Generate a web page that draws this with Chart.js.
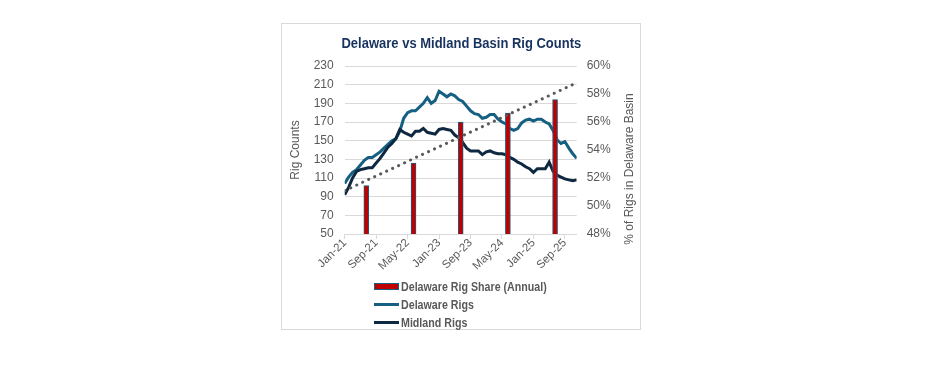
<!DOCTYPE html>
<html>
<head>
<meta charset="utf-8">
<script src="https://cdn.jsdelivr.net/npm/chart.js@4.4.1/dist/chart.umd.min.js"></script>
<style>
    body { margin: 0; background: #fff; width: 931px; height: 367px; position: relative; overflow: hidden; }
    #box { position: absolute; left: 281px; top: 23px; width: 358px; height: 305px; border: 1px solid #D9D9D9; background: #fff; }
    #box canvas { position: absolute; left: 0; top: 0; }
    #title { position: absolute; left: 0; top: 10px; width: 358px; text-align: center; white-space: nowrap;
             font-family: 'Liberation Sans', Arial, sans-serif; font-weight: bold; font-size: 15px; line-height: 18px; color: #17325E; }
    #title span { display: inline-block; transform-origin: center; }
    #legend { position: absolute; left: 92px; top: 254px; font-family: 'Liberation Sans', Arial, sans-serif; font-weight: bold; font-size: 13px; color: #595959; }
    .row { display: flex; align-items: center; height: 17.7px; white-space: nowrap; }
    .sym { width: 25px; margin-right: 2px; box-sizing: border-box; flex: none; }
    .txt { display: inline-block; transform-origin: left center; }
</style>
</head>
<body>
<div id="box">
    <canvas id="rigChart" width="358" height="305"></canvas>
    <div id="title"><span>Delaware vs Midland Basin Rig Counts</span></div>
    <div id="legend"></div>
</div>
<script>
// Meses (eixo X), Jan-21 a Dec-25
const months = [
    'Jan-21','Feb-21','Mar-21','Apr-21','May-21','Jun-21','Jul-21','Aug-21','Sep-21','Oct-21','Nov-21','Dec-21',
    'Jan-22','Feb-22','Mar-22','Apr-22','May-22','Jun-22','Jul-22','Aug-22','Sep-22','Oct-22','Nov-22','Dec-22',
    'Jan-23','Feb-23','Mar-23','Apr-23','May-23','Jun-23','Jul-23','Aug-23','Sep-23','Oct-23','Nov-23','Dec-23',
    'Jan-24','Feb-24','Mar-24','Apr-24','May-24','Jun-24','Jul-24','Aug-24','Sep-24','Oct-24','Nov-24','Dec-24',
    'Jan-25','Feb-25','Mar-25','Apr-25','May-25','Jun-25','Jul-25','Aug-25','Sep-25','Oct-25','Nov-25','Dec-25'
];

const delawareRigs = [
    104, 111, 116, 119, 124, 129, 132, 132, 135, 138,
    142, 146, 150, 152, 160, 174, 180, 182, 182, 186,
    190, 196, 190, 193, 203, 200, 197, 200, 198, 194,
    192, 187, 182, 179, 178, 174, 175, 178, 178, 173,
    170, 168, 163, 161, 163, 169, 172, 173, 171, 173,
    173, 170, 168, 161, 151, 147, 149, 142, 136, 131
];

const midlandRigs = [
    92, 100, 110, 117, 119, 120, 121, 121, 126, 131,
    137, 143, 147, 152, 162, 159, 157, 155, 160, 160,
    163, 159, 158, 157, 162, 163, 162, 161, 156, 153,
    148, 142, 139, 139, 139, 135, 138, 139, 137, 136,
    136, 135, 132, 130, 127, 125, 122, 120, 116, 120,
    120, 120, 127, 117, 113, 111, 109, 108, 107, 108
];

// Participação anual do Delaware (%), posicionada no meio de cada ano
const shareYears = ['2021', '2022', '2023', '2024', '2025'];
const sharePos = [5.5, 17.5, 29.5, 41.5, 53.5];
const delawareShare = [51.45, 53.07, 56.0, 56.64, 57.6];

// Linha de tendência (pontilhada)
const trendPos = [0, 59];
const trendShare = [51.1, 58.8];

const grey = '#595959';
const fontBase = "'Liberation Sans', Arial, sans-serif";

// Título do eixo direito (lido de baixo para cima)
const rightTitle = {
    id: 'rightTitle',
    afterDraw(chart) {
        const ctx = chart.ctx;
        const area = chart.chartArea;
        ctx.save();
        ctx.translate(chart.scales.y2.right - 10, (area.top + area.bottom) / 2 + 19);
        ctx.rotate(-Math.PI / 2);
        ctx.font = '12px ' + fontBase;
        ctx.fillStyle = grey;
        ctx.textAlign = 'center';
        ctx.textBaseline = 'middle';
        ctx.fillText('% of Rigs in Delaware Basin', 0, 0);
        ctx.restore();
    }
};

const chart = new Chart(document.getElementById('rigChart'), {
    type: 'line',
    data: {
        datasets: [{
            type: 'line',
            label: 'trend',
            data: trendPos.map((x, i) => ({ x: x, y: trendShare[i] })),
            yAxisID: 'y2',
            borderColor: grey,
            borderWidth: 3,
            borderDash: [0.1, 6.5],
            borderCapStyle: 'round',
            pointRadius: 0,
            order: 0
        }, {
            type: 'bar',
            label: 'Delaware Rig Share (Annual)',
            data: sharePos.map((x, i) => ({ x: x, y: delawareShare[i] })),
            yAxisID: 'y2',
            backgroundColor: '#C00000',
            borderColor: '#156082',
            borderWidth: 1,
            barThickness: 5,
            order: 1
        }, {
            type: 'line',
            label: 'Delaware Rigs',
            data: delawareRigs.map((v, i) => ({ x: i, y: v })),
            yAxisID: 'y',
            borderColor: '#156082',
            borderWidth: 3,
            pointRadius: 0,
            tension: 0,
            order: 3
        }, {
            type: 'line',
            label: 'Midland Rigs',
            data: midlandRigs.map((v, i) => ({ x: i, y: v })),
            yAxisID: 'y',
            borderColor: '#0E2841',
            borderWidth: 3,
            pointRadius: 0,
            tension: 0,
            order: 2
        }]
    },
    options: {
        responsive: false,
        animation: false,
        layout: { padding: { top: 42, left: 0, right: 0, bottom: 0 } },
        plugins: {
            legend: { display: false },
            tooltip: { enabled: false },
            title: { display: false }
        },
        scales: {
            x: {
                type: 'linear',
                min: 0,
                max: 59,
                offset: false,
                afterFit: s => { s.height = 95; },
                grid: { drawOnChartArea: false, drawTicks: true, tickLength: 5, color: '#D9D9D9', offset: false },
                border: { color: '#D9D9D9' },
                ticks: {
                    stepSize: 8,
                    includeBounds: false,
                    autoSkip: false,
                    maxRotation: 45,
                    minRotation: 45,
                    padding: -3,
                    color: grey,
                    font: { family: fontBase, size: 11.5 },
                    callback: v => months[v]
                }
            },
            y: {
                position: 'left',
                min: 50,
                max: 230,
                afterFit: s => { s.width = 62.7; },
                grid: { color: '#D9D9D9', drawTicks: false },
                border: { display: false },
                ticks: { stepSize: 20, padding: 11, color: grey, font: { family: fontBase, size: 12 } },
                title: {
                    display: true,
                    text: 'Rig Counts',
                    color: grey,
                    font: { family: fontBase, size: 12 },
                    padding: { top: 6, bottom: 0 }
                }
            },
            y2: {
                position: 'right',
                min: 48,
                max: 60,
                afterFit: s => { s.width = 63.3; },
                grid: { drawOnChartArea: false, drawTicks: false },
                border: { display: false },
                ticks: {
                    stepSize: 2,
                    padding: 10,
                    color: grey,
                    font: { family: fontBase, size: 12 },
                    callback: v => v + '%'
                }
            }
        }
    },
    plugins: [rightTitle]
});

// Título condensado para caber na largura do original
const titleSpan = document.querySelector('#title span');
titleSpan.style.transform = 'scaleX(' + (240 / titleSpan.offsetWidth) + ')';

// Legenda em HTML, empilhada na vertical
const legendEl = document.getElementById('legend');
[1, 2, 3].forEach(idx => {
    const ds = chart.data.datasets[idx];
    const row = document.createElement('div');
    row.className = 'row';
    const sym = document.createElement('span');
    sym.className = 'sym';
    if (ds.type === 'bar') {
        sym.style.height = '7px';
        sym.style.background = ds.backgroundColor;
        sym.style.border = '1px solid ' + ds.borderColor;
    } else {
        sym.style.height = '3px';
        sym.style.background = ds.borderColor;
    }
    const txt = document.createElement('span');
    txt.className = 'txt';
    txt.textContent = ds.label;
    row.appendChild(sym);
    row.appendChild(txt);
    legendEl.appendChild(row);
});
const firstTxt = legendEl.querySelector('.txt');
const legendScale = 146 / firstTxt.offsetWidth;
legendEl.querySelectorAll('.txt').forEach(t => { t.style.transform = 'scaleX(' + legendScale + ')'; });
</script>
</body>
</html>
